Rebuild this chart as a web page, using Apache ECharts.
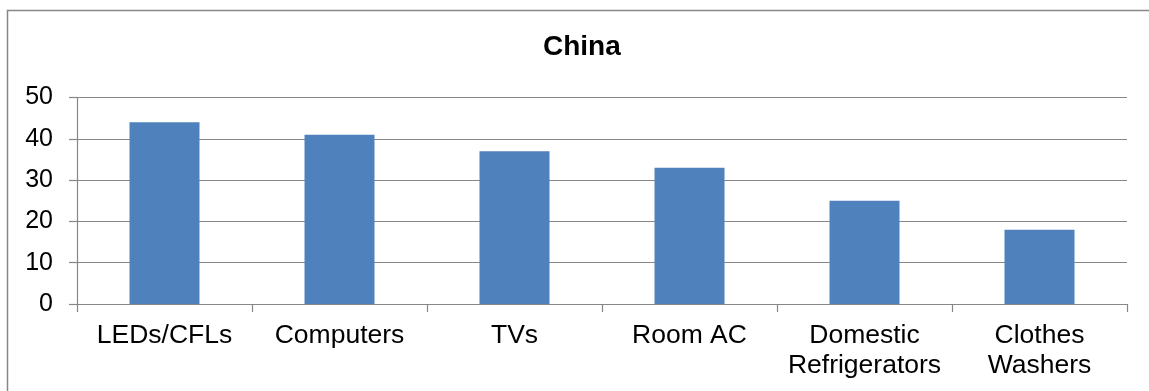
<!DOCTYPE html>
<html>
<head>
<meta charset="utf-8">
<script src="https://cdn.jsdelivr.net/npm/echarts@6/dist/echarts.min.js"></script>
<style>
html,body{margin:0;padding:0;background:#fff;}
#chart{width:1149px;height:391px;}
</style>
</head>
<body>
<div id="chart"></div>
<script>
const titleText = "China";
const categories = ["LEDs/CFLs", "Computers", "TVs", "Room AC", "Domestic\nRefrigerators", "Clothes\nWashers"];
const values = [44, 41, 37, 33, 25, 18];
const yTicks = { min: 0, max: 50, interval: 10 };

const chart = echarts.init(document.getElementById('chart'), null, {renderer: 'canvas'});
const font = 'Arial, "Liberation Sans", sans-serif';
chart.setOption({
  animation: false,
  backgroundColor: '#fff',
  title: {
    text: titleText,
    left: 543,
    top: 33,
    padding: 0,
    textStyle: { fontFamily: font, fontWeight: 'bold', fontSize: 28, color: '#000' }
  },
  graphic: [{
    type: 'rect',
    shape: { x: 7.5, y: 10.5, width: 1200, height: 500 },
    style: { fill: 'none', stroke: '#878787', lineWidth: 1.5 },
    silent: true
  }],
  grid: { left: 77, right: 22, top: 97.5, bottom: 87, containLabel: false },
  xAxis: {
    type: 'category',
    data: categories,
    axisLine: { lineStyle: { color: '#878787', width: 1.2 } },
    axisTick: { show: true, length: 8, alignWithLabel: false, lineStyle: { color: '#878787', width: 1.2 } },
    axisLabel: { fontFamily: font, fontSize: 26.5, color: '#000', margin: 17, lineHeight: 30, interval: 0 }
  },
  yAxis: {
    type: 'value',
    min: yTicks.min, max: yTicks.max, interval: yTicks.interval,
    axisLine: { show: true, lineStyle: { color: '#878787', width: 1.2 } },
    axisTick: { show: true, length: 8, lineStyle: { color: '#878787', width: 1.2 } },
    splitLine: { show: true, lineStyle: { color: '#878787', width: 1.2 } },
    axisLabel: { fontFamily: font, fontSize: 25, color: '#000', margin: 24 }
  },
  series: [{
    type: 'bar',
    data: values,
    barWidth: '40%',
    itemStyle: { color: '#4F81BD' }
  }]
});
</script>
</body>
</html>
